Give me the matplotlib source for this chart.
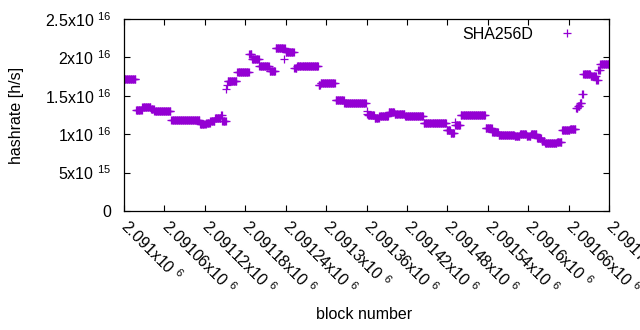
import numpy as np
import matplotlib
matplotlib.use("Agg")
import matplotlib.pyplot as plt

PURPLE = "#9400D3"

# hashrate is flat over runs of blocks: first block offset of each run, and its value
first_block = 2091000
last_block = 2091720
run_start = [0, 18, 27, 40, 45, 70, 113, 122, 128, 135, 144, 146, 152, 153, 154,
             168, 186, 190, 201, 216, 225, 238, 239, 240, 253, 257, 289, 292, 314,
             327, 360, 361, 362, 372, 379, 393, 402, 417, 445, 479, 485, 491, 492,
             500, 537, 547, 556, 580, 588, 598, 604, 613, 620, 625, 634, 643, 650,
             662, 671, 674, 677, 680, 682, 693, 701, 704, 707]
run_hashrate = [1.715e16, 1.315e16, 1.36e16, 1.33e16, 1.30e16, 1.18e16, 1.13e16,
                1.145e16, 1.17e16, 1.215e16, 1.245e16, 1.17e16, 1.59e16, 1.635e16,
                1.69e16, 1.805e16, 2.05e16, 1.975e16, 1.89e16, 1.82e16, 2.12e16,
                1.975e16, 2.12e16, 2.065e16, 1.86e16, 1.89e16, 1.645e16, 1.665e16,
                1.44e16, 1.40e16, 1.26e16, 1.305e16, 1.25e16, 1.21e16, 1.24e16,
                1.285e16, 1.26e16, 1.235e16, 1.14e16, 1.055e16, 1.01e16, 1.165e16,
                1.12e16, 1.245e16, 1.08e16, 1.03e16, 0.995e16, 0.98e16, 1.00e16,
                0.975e16, 1.00e16, 0.95e16, 0.915e16, 0.89e16, 0.88e16, 0.90e16,
                1.05e16, 1.07e16, 1.34e16, 1.37e16, 1.40e16, 1.52e16, 1.79e16,
                1.76e16, 1.70e16, 1.83e16, 1.92e16]

x_tick_values = [2091000, 2091060, 2091120, 2091180, 2091240, 2091300, 2091360,
                 2091420, 2091480, 2091540, 2091600, 2091660, 2091720]
x_tick_labels = ["2.091x10 $^{6}$", "2.09106x10 $^{6}$", "2.09112x10 $^{6}$",
                 "2.09118x10 $^{6}$", "2.09124x10 $^{6}$", "2.0913x10 $^{6}$",
                 "2.09136x10 $^{6}$", "2.09142x10 $^{6}$", "2.09148x10 $^{6}$",
                 "2.09154x10 $^{6}$", "2.0916x10 $^{6}$", "2.09166x10 $^{6}$",
                 "2.09172x10 $^{6}$"]
y_tick_values = [0, 5e15, 1e16, 1.5e16, 2e16, 2.5e16]
y_tick_labels = ["0", "5x10 $^{15}$", "1x10 $^{16}$", "1.5x10 $^{16}$",
                 "2x10 $^{16}$", "2.5x10 $^{16}$"]

# expand runs to one point per block
counts = np.diff(run_start + [last_block - first_block + 1])
blocks = first_block + np.arange(last_block - first_block + 1)
hashrate = np.repeat(run_hashrate, counts)

plt.rcParams["font.family"] = ["Liberation Sans", "DejaVu Sans"]
plt.rcParams["mathtext.fontset"] = "custom"
plt.rcParams["mathtext.rm"] = "Liberation Sans"
plt.rcParams["mathtext.default"] = "regular"
plt.rcParams["font.size"] = 11.5

fig = plt.figure(figsize=(6.4, 3.3), dpi=100)
ax = fig.add_axes([124 / 640, 1 - 211 / 330, 485 / 640, 192 / 330])

ax.plot(blocks, hashrate, linestyle="none", marker="+", markersize=6,
        markeredgewidth=0.9, color=PURPLE, label="SHA256D")

ax.set_xlim(first_block, last_block)
ax.set_ylim(0, 2.5e16)
ax.set_xticks(x_tick_values)
ax.set_xticklabels(x_tick_labels, rotation=-45, ha="left", va="center",
                   rotation_mode="anchor")
ax.set_yticks(y_tick_values)
ax.set_yticklabels(y_tick_labels)
ax.tick_params(direction="in", length=4, width=0.8, top=True, right=True,
               colors="black")
ax.tick_params(axis="x", pad=9)
ax.tick_params(axis="y", pad=9)
for s in ax.spines.values():
    s.set_linewidth(0.9)

ax.set_ylabel("hashrate [h/s]")
ax.yaxis.set_label_coords(-0.206, 0.5)
ax.set_xlabel("block number")
ax.xaxis.set_label_coords(0.495, -0.50)

ax.legend(loc="upper right", bbox_to_anchor=(0.946, 0.96), frameon=False,
          markerfirst=False, borderaxespad=0, borderpad=0, handlelength=2,
          handletextpad=1.13)

fig.savefig("out.png", dpi=100, facecolor="white")
